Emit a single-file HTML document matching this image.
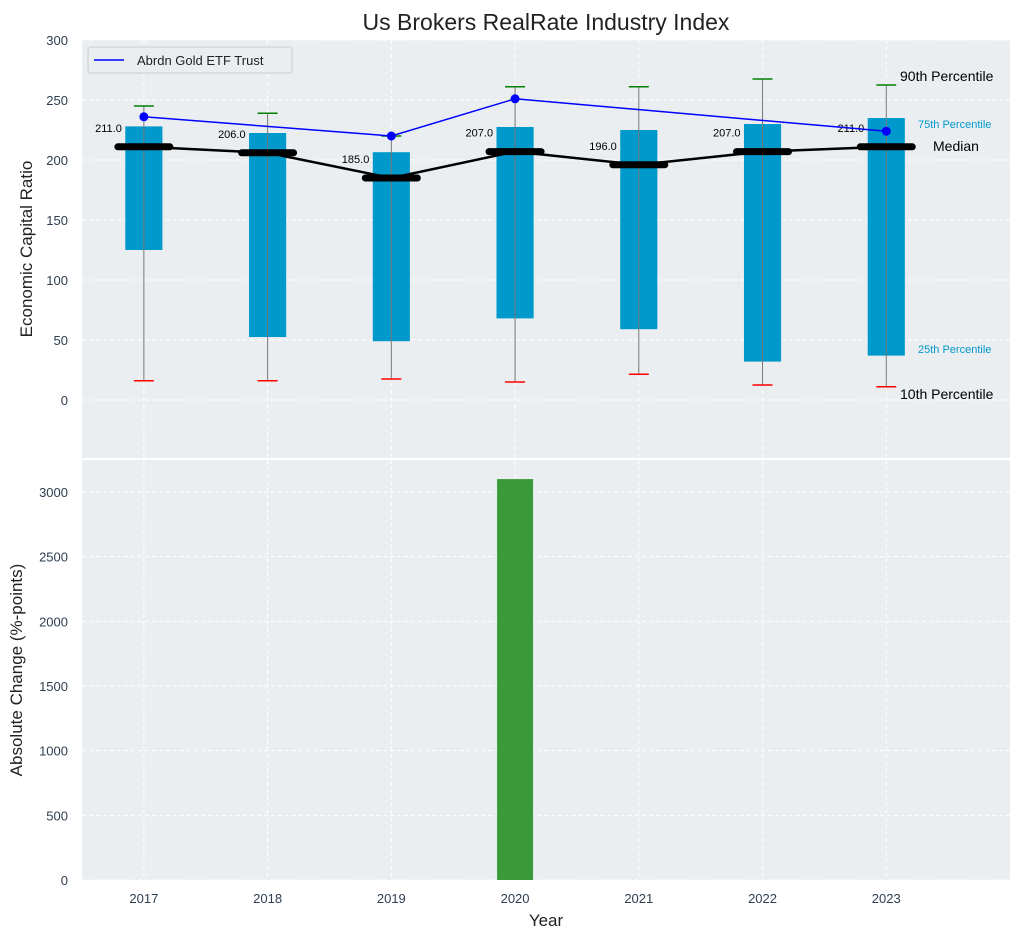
<!DOCTYPE html>
<html><head><meta charset="utf-8"><style>
body{margin:0;background:#fff;font-family:"Liberation Sans",sans-serif;}
svg text{font-family:"Liberation Sans",sans-serif;}
</style></head><body>
<svg id="c" width="1021" height="940" xmlns="http://www.w3.org/2000/svg"></svg>
<script>
const years=[2017,2018,2019,2020,2021,2022,2023];
const p10=[16,16,17.5,15,21.5,12.5,11];
const p25=[125,52.5,49,68,59,32,37];
const median=[211,206,185,207,196,207,211];
const p75=[228,222.5,206.5,227.5,225,230,235];
const p90=[245,239,220,261,261,267.5,262.5];
const etfYears=[2017,2019,2020,2023];
const etfVals=[236,220,251,224];
const changeYears=[2020];
const changeVals=[3100];
const yTicksTop=[0,50,100,150,200,250,300];
const yTicksBot=[0,500,1000,1500,2000,2500,3000];

const NS='http://www.w3.org/2000/svg';
const svg=document.getElementById('c');
function el(t,a,txt){const e=document.createElementNS(NS,t);for(const k in a)e.setAttribute(k,a[k]);if(txt!==undefined)e.textContent=txt;svg.appendChild(e);return e;}
const L=82,R=1010;
const x=v=>L+(v-2016.5)/(2024-2016.5)*(R-L);
const yT=v=>400-v*1.2;
const yB=v=>880-v*(388/3000);
const bg1=el('rect',{x:L,y:40,width:R-L,height:418,fill:'#eaeef0'});

const bg2=el('rect',{x:L,y:460,width:R-L,height:420,fill:'#eaeef0'});

years.forEach(v=>{el('line',{x1:x(v),x2:x(v),y1:40,y2:458,stroke:'#fff','stroke-dasharray':'4,3'});el('line',{x1:x(v),x2:x(v),y1:460,y2:880,stroke:'#fff','stroke-dasharray':'4,3'});});
yTicksTop.forEach(v=>{el('line',{x1:L,x2:R,y1:yT(v),y2:yT(v),stroke:'#fff','stroke-dasharray':'4,3'});const t=el('text',{x:L-14,y:yT(v)+5,'text-anchor':'end','font-size':13,fill:'#2e3e50'},v);});
yTicksBot.forEach(v=>{el('line',{x1:L,x2:R,y1:yB(v),y2:yB(v),stroke:'#fff','stroke-dasharray':'4,3'});const t=el('text',{x:L-14,y:yB(v)+5,'text-anchor':'end','font-size':13,fill:'#2e3e50'},v);});
years.forEach(v=>{const t=el('text',{x:x(v),y:903,'text-anchor':'middle','font-size':13,fill:'#2e3e50'},v);});
const bw=0.3*(R-L)/7.5;
years.forEach((v,i)=>{
 const b=el('rect',{x:x(v)-bw/2,y:yT(p75[i]),width:bw,height:yT(p25[i])-yT(p75[i]),fill:'#0099cc'});
 
 el('line',{x1:x(v),x2:x(v),y1:yT(p90[i]),y2:yT(p10[i]),stroke:'#777','stroke-width':1});
 const c1=el('line',{x1:x(v)-10,x2:x(v)+10,y1:yT(p90[i]),y2:yT(p90[i]),stroke:'green','stroke-width':1.5});
 
 const c2=el('line',{x1:x(v)-10,x2:x(v)+10,y1:yT(p10[i]),y2:yT(p10[i]),stroke:'red','stroke-width':1.5});
 
});
const ml=el('polyline',{points:years.map((v,i)=>x(v)+','+yT(median[i])).join(' '),fill:'none',stroke:'#000','stroke-width':2.5});

years.forEach((v,i)=>{
 const m=el('line',{x1:x(v)-26,x2:x(v)+26,y1:yT(median[i]),y2:yT(median[i]),stroke:'#000','stroke-width':7,'stroke-linecap':'round'});
 
 const t=el('text',{x:x(v)-22,y:yT(median[i])-15,'text-anchor':'end','font-size':11,fill:'#000'},median[i].toFixed(1));
 
});
const el2=el('polyline',{points:etfYears.map((v,i)=>x(v)+','+yT(etfVals[i])).join(' '),fill:'none',stroke:'#0000ff','stroke-width':1.5});

etfYears.forEach((v,i)=>{const d=el('circle',{cx:x(v),cy:yT(etfVals[i]),r:4.5,fill:'#0000ff'});});
[[900,81,'90th Percentile',14,'#000'],[918,128,'75th Percentile',11,'#0099cc'],[933,151,'Median',14,'#000'],[918,353,'25th Percentile',11,'#0099cc'],[900,399,'10th Percentile',14,'#000']].forEach(a=>{const t=el('text',{x:a[0],y:a[1],'font-size':a[3],fill:a[4]},a[2]);});
const lg=el('rect',{x:88,y:47,width:204,height:26,fill:'#eaeef0',stroke:'#ccc',rx:3});

el('line',{x1:94,x2:124,y1:60,y2:60,stroke:'#0000ff','stroke-width':1.5});
const lt=el('text',{x:137,y:65,'font-size':13,fill:'#222'},'Abrdn Gold ETF Trust');

changeYears.forEach((v,i)=>{const b=el('rect',{x:x(v)-18,y:yB(changeVals[i]),width:36,height:yB(0)-yB(changeVals[i]),fill:'#3a9a3a'});});
const tt=el('text',{x:546,y:30,'text-anchor':'middle','font-size':23,fill:'#222'},'Us Brokers RealRate Industry Index');

const y1=el('text',{x:0,y:0,'text-anchor':'middle','font-size':17,fill:'#222',transform:'translate(32,249) rotate(-90)'},'Economic Capital Ratio');

const y2=el('text',{x:0,y:0,'text-anchor':'middle','font-size':17,fill:'#222',transform:'translate(22,670) rotate(-90)'},'Absolute Change (%-points)');

const xt=el('text',{x:546,y:926,'text-anchor':'middle','font-size':17,fill:'#222'},'Year');

</script>
</body></html>
